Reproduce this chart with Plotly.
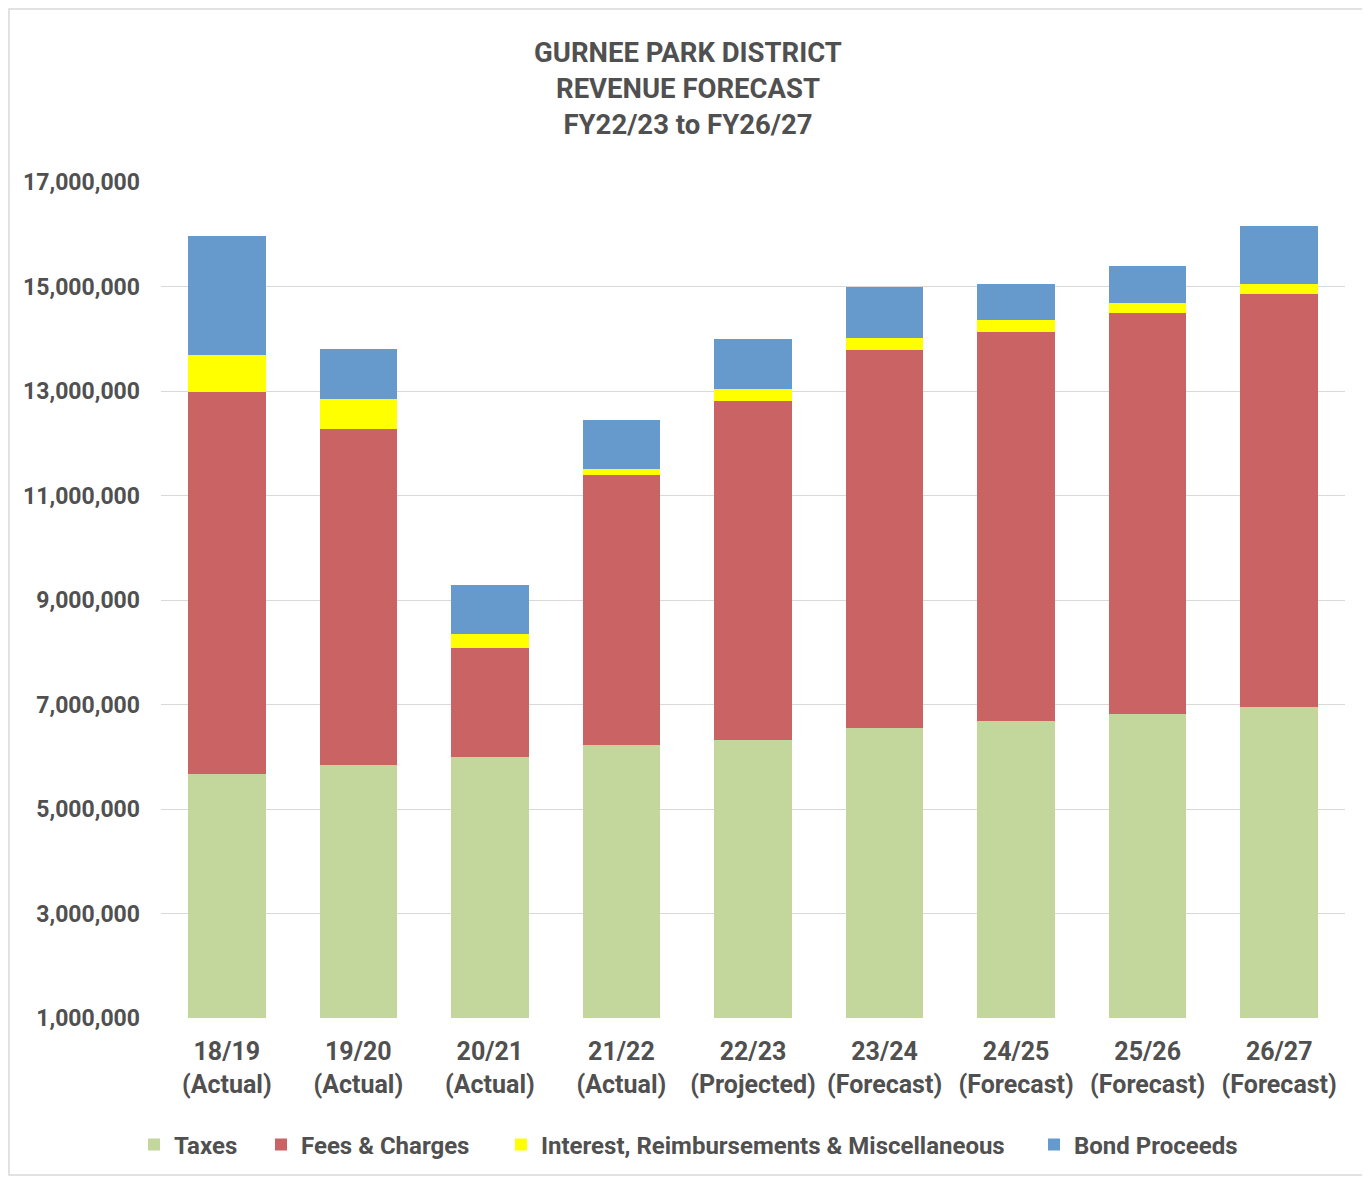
import plotly.graph_objects as go

categories = ["18/19<br>(Actual)", "19/20<br>(Actual)", "20/21<br>(Actual)", "21/22<br>(Actual)",
              "22/23<br>(Projected)", "23/24<br>(Forecast)", "24/25<br>(Forecast)",
              "25/26<br>(Forecast)", "26/27<br>(Forecast)"]
taxes = [5670000, 5840000, 6000000, 6220000, 6320000, 6550000, 6680000, 6820000, 6950000]
fees = [7310000, 6430000, 2080000, 5170000, 6490000, 7230000, 7450000, 7670000, 7910000]
interest = [710000, 580000, 270000, 120000, 230000, 230000, 230000, 190000, 190000]
bonds = [2280000, 950000, 940000, 930000, 960000, 980000, 690000, 710000, 1110000]
tick_vals = [1000000, 3000000, 5000000, 7000000, 9000000, 11000000, 13000000, 15000000, 17000000]

FONT = "Roboto, Arial, sans-serif"
TXT = "#505050"

series = [
    ("Taxes", taxes, "#C3D69B"),
    ("Fees & Charges", fees, "#CA6464"),
    ("Interest, Reimbursements & Miscellaneous", interest, "#FFFF00"),
    ("Bond Proceeds", bonds, "#6699CC"),
]
legend_ids = ["legend", "legend2", "legend3", "legend4"]
legend_marker_px = [148, 275, 515, 1048]

W, H = 1362, 1171
L, T, R, B = 153, 174, 25, 161
PW = W - L - R
PH = H - T - B

fig = go.Figure()
for (name, vals, col), lid in zip(series, legend_ids):
    fig.add_trace(go.Bar(x=categories, y=vals, name=name, legend=lid,
                         marker=dict(color=col, line=dict(width=0))))

layout_legends = {}
for lid, px in zip(legend_ids, legend_marker_px):
    layout_legends[lid] = dict(
        orientation="h", x=(px - 8 - 14 - L) / PW, xanchor="left",
        y=(1010 - 1137) / PH, yanchor="middle",
        font=dict(family=FONT, size=24, color=TXT, weight="bold"),
        itemwidth=30, bgcolor="rgba(0,0,0,0)")

fig.update_layout(
    barmode="stack",
    bargap=0.41,
    width=W, height=H,
    margin=dict(l=L, r=R, t=T, b=B),
    paper_bgcolor="white", plot_bgcolor="white",
    font=dict(family=FONT, color=TXT, size=24),
    title=dict(text="<b>GURNEE PARK DISTRICT<br>REVENUE FORECAST<br>FY22/23 to FY26/27</b>",
               x=(688 - 8) / W, xanchor="center", y=1 - 54 / H, yanchor="middle", yref="container",
               font=dict(family=FONT, size=27.5, color=TXT)),
    showlegend=True,
    xaxis=dict(showgrid=False, showline=False, ticks="", ticklabelstandoff=16,
               tickfont=dict(family=FONT, size=25, color=TXT, weight="bold")),
    yaxis=dict(range=[1000000, 17000000], tickvals=tick_vals, tickformat=",",
               showgrid=True, gridcolor="#D9D9D9", gridwidth=1.3, zeroline=False,
               showline=False, ticks="", ticklabelstandoff=20,
               tickfont=dict(family=FONT, size=23, color=TXT, weight="bold")),
    **layout_legends,
)

fig.add_shape(type="rect", xref="paper", yref="paper",
              x0=(1 - L) / PW, x1=(1357 - L) / PW,
              y0=(T + PH - 1167) / PH, y1=(T + PH - 1) / PH,
              line=dict(color="#D9D9D9", width=1.5), fillcolor="rgba(0,0,0,0)", layer="below")

fig.write_html("out.html")
